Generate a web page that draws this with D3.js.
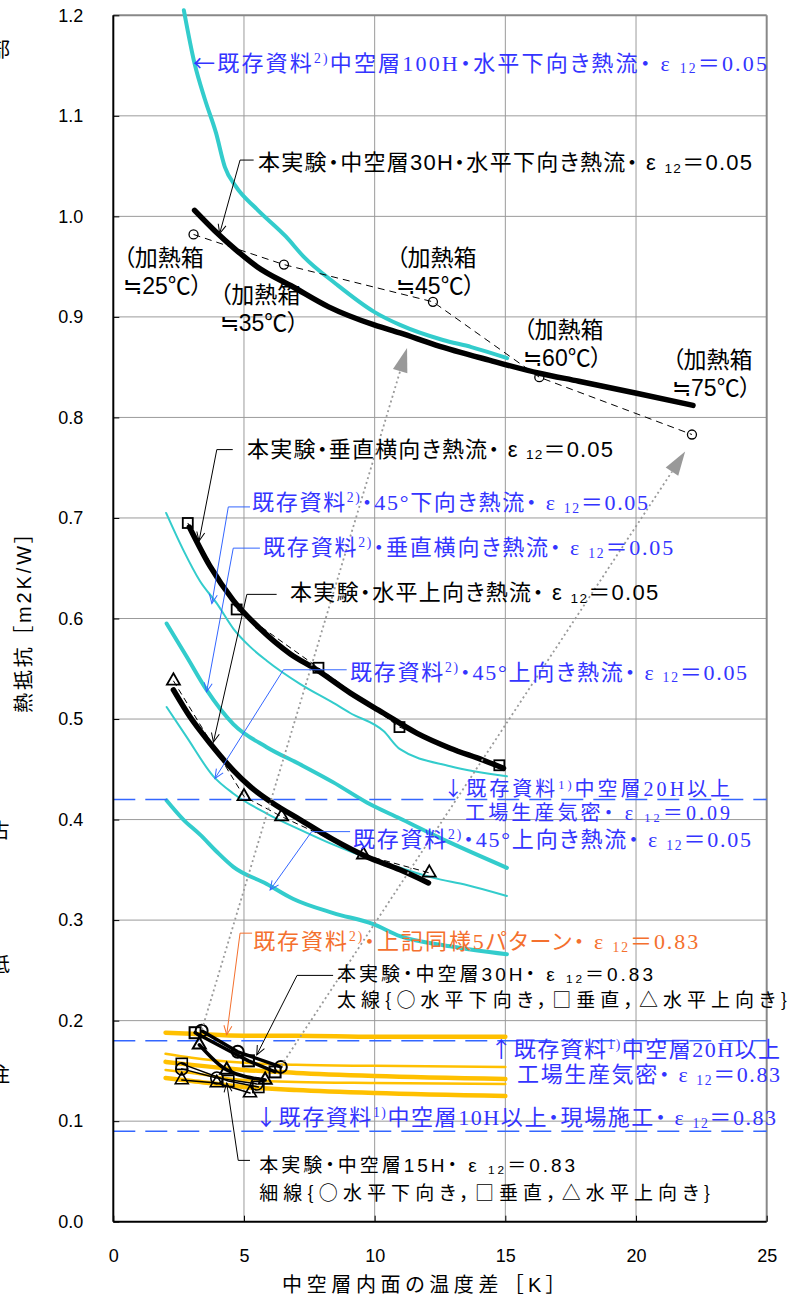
<!DOCTYPE html>
<html><head><meta charset="utf-8">
<script src="https://cdn.jsdelivr.net/npm/d3@7"></script>
<style>body{margin:0;background:#fff}svg{display:block}</style>
</head><body><svg id="c" width="800" height="1296"></svg>
<script>
// ---------------- DATA ----------------
const xTicks=[0,5,10,15,20,25];
const xTickLabels=["0","5","10","15","20","25"];
const yTicks=[0,0.1,0.2,0.3,0.4,0.5,0.6,0.7,0.8,0.9,1.0,1.1,1.2];
const yTickLabels=["0.0","0.1","0.2","0.3","0.4","0.5","0.6","0.7","0.8","0.9","1.0","1.1","1.2"];

// 既存資料2) 中空層100H 水平下向き ε0.05
const ref100Hx=[2.70,3.11,3.51,3.93,4.27,4.68,5.50,6.60,7.28,8.51,9.98,10.97,12.61,13.70,15.07];
const ref100Hy=[1.205,1.152,1.116,1.083,1.049,1.030,1.007,0.980,0.960,0.933,0.905,0.892,0.877,0.870,0.859];
// 本実験 中空層30H 水平下向き ε0.05
const exp30Hx=[3.11,3.87,4.68,5.50,6.87,8.24,9.98,10.97,12.34,14.38,16.30,17.81,20.02,22.18];
const exp30Hy=[1.006,0.986,0.967,0.950,0.930,0.910,0.892,0.884,0.872,0.857,0.844,0.836,0.824,0.812];
// 加熱箱 points
const boxX=[3.07,6.53,12.23,16.30,22.14];
const boxY=[0.982,0.952,0.915,0.840,0.783];
const boxTemps=["≒25℃）","≒35℃）","≒45℃）","≒60℃）","≒75℃）"];
const boxLabelX=[0.38,4.07,10.82,15.68,21.38];
const boxLabelY=[0.951,0.914,0.951,0.879,0.849];
// 本実験 垂直横向き ε0.05
const vertPtX=[2.85,4.72,7.85,10.95,14.77];
const vertPtY=[0.695,0.609,0.551,0.492,0.454];
const vertCurveX=[2.91,3.70,4.59,5.61,6.76,7.78,9.06,10.33,11.61,12.89,14.16,14.93];
const vertCurveY=[0.691,0.652,0.618,0.590,0.565,0.549,0.526,0.506,0.486,0.471,0.459,0.451];
// 本実験 水平上向き ε0.05
const upPtX=[2.30,5.00,6.44,9.57,12.09];
const upPtY=[0.538,0.423,0.403,0.365,0.347];
const upCurveX=[2.30,2.94,3.70,4.59,5.23,6.12,7.14,8.42,9.70,10.97,12.06];
const upCurveY=[0.529,0.502,0.476,0.449,0.433,0.416,0.400,0.380,0.363,0.350,0.337];
// 既存資料2) 45°下向き (thin)
const ref45downX=[2.02,2.68,3.32,3.96,4.59,5.23,5.87,7.14,8.42,9.06,10.34,10.97,12.89,15.06];
const ref45downY=[0.705,0.668,0.637,0.615,0.590,0.572,0.558,0.535,0.516,0.506,0.488,0.470,0.453,0.443];
// 既存資料2) 垂直横向き (thick)
const refVertX=[2.04,2.81,3.57,4.59,5.87,7.14,8.42,9.70,10.97,12.89,15.06];
const refVertY=[0.595,0.562,0.529,0.495,0.472,0.455,0.437,0.417,0.401,0.377,0.352];
// 既存資料2) 45°上向き (thin)
const ref45upX=[2.04,2.81,3.83,4.59,5.87,7.14,8.42,9.70,10.97,12.25,13.52,15.06];
const ref45upY=[0.512,0.482,0.443,0.426,0.406,0.390,0.375,0.362,0.352,0.342,0.335,0.324];
// 既存資料2) 上向き (thick, lowest)
const refUpX=[2.04,2.68,3.32,3.96,4.59,5.87,6.89,8.42,9.95,10.97,12.89,15.06];
const refUpY=[0.419,0.400,0.385,0.368,0.353,0.336,0.321,0.307,0.296,0.284,0.274,0.266];
// 既存資料1) reference levels
const refLevels=[0.42,0.18,0.09];
// 既存資料2) ε0.83 five patterns
const yellowX=[2,3,5,7,10,15];
const yellow1=[0.188,0.187,0.185,0.185,0.184,0.184];
const yellow2=[0.167,0.163,0.158,0.156,0.155,0.154];
const yellow3=[0.159,0.156,0.151,0.148,0.145,0.142];
const yellow4=[0.151,0.148,0.141,0.139,0.138,0.137];
const yellow5=[0.143,0.140,0.134,0.131,0.128,0.125];
// 本実験 ε0.83  30H (thick) / 15H (thin)
const e30circX=[3.38,4.76,6.41], e30circY=[0.190,0.169,0.154];
const e30sqX=[3.13,5.17,6.19],  e30sqY=[0.188,0.160,0.149];
const e30triX=[3.29,4.34,5.81], e30triY=[0.176,0.151,0.141];
const e15circX=[2.62,3.96,5.49], e15circY=[0.152,0.143,0.137];
const e15sqX=[2.62,4.40,5.55],  e15sqY=[0.157,0.140,0.134];
const e15triX=[2.62,3.96,5.23], e15triY=[0.141,0.138,0.128];
// gray dotted arrows
const arrowFrom=[[3.39,0.191],[6.42,0.155]];
const arrowTo=[[11.24,0.869],[21.88,0.766]];

// ---------------- SETUP ----------------
const svg=d3.select('#c');
const x=d3.scaleLinear().domain([0,25]).range([113.3,766.7]);
const y=d3.scaleLinear().domain([0,1.2]).range([1221.7,15.3]);
const zip=(a,b)=>a.map((v,i)=>[v,b[i]]);
const FG="'Liberation Sans','Noto Sans CJK JP',sans-serif";
const FJ="'Noto Sans CJK JP','Liberation Sans',sans-serif";
const FM="'Liberation Serif','Noto Sans CJK JP',serif";
const BLUE_T="#3434ff", BLUE_L="#3366ff", ORANGE="#f4702e", CYAN="#33cccc", GOLD="#ffc000";

const defs=svg.append('defs');
function vMarker(id,color){
  defs.append('marker').attr('id',id).attr('viewBox','-12 -7 14 14')
    .attr('refX',0).attr('refY',0).attr('markerWidth',14).attr('markerHeight',14)
    .attr('markerUnits','userSpaceOnUse').attr('orient','auto')
    .append('path').attr('d','M-9,-4 L0,0 L-9,4').attr('fill','none')
    .attr('stroke',color).attr('stroke-width',1);
}
vMarker('mk','#000'); vMarker('mb',BLUE_L); vMarker('mo',ORANGE);

// grid
const gGrid=svg.append('g');
gGrid.selectAll('line.gv').data(xTicks.slice(1,-1)).join('line').attr('class','gv')
  .attr('x1',d=>x(d)).attr('x2',d=>x(d)).attr('y1',y(1.2)).attr('y2',y(0))
  .attr('stroke','#9b9b9b').attr('stroke-width',1);
gGrid.selectAll('line.gh').data(yTicks.slice(1,-1)).join('line').attr('class','gh')
  .attr('x1',x(0)).attr('x2',x(25)).attr('y1',d=>y(d)).attr('y2',d=>y(d))
  .attr('stroke','#9b9b9b').attr('stroke-width',1);
// frame (top / right)
svg.append('line').attr('x1',x(0)).attr('x2',x(25)).attr('y1',y(1.2)).attr('y2',y(1.2)).attr('stroke','#888').attr('stroke-width',2);
svg.append('line').attr('x1',x(25)).attr('x2',x(25)).attr('y1',y(1.2)).attr('y2',y(0)).attr('stroke','#888').attr('stroke-width',2);

const lin=d3.line().x(d=>x(d[0])).y(d=>y(d[1]));
const smooth=d3.line().x(d=>x(d[0])).y(d=>y(d[1])).curve(d3.curveMonotoneX);
function path(pts,gen,color,w,dash){
  const p=svg.append('path').attr('d',gen(pts)).attr('fill','none').attr('stroke',color)
    .attr('stroke-width',w).attr('stroke-linejoin','round').attr('stroke-linecap','round');
  if(dash) p.attr('stroke-dasharray',dash).attr('stroke-linecap','butt');
  return p;
}

// yellow lines
[yellow1,yellow2,yellow3,yellow4,yellow5].forEach((ys,i)=>{
  path(zip(yellowX,ys),smooth,GOLD,[4.5,2.5,4.5,2.5,4.5][i]);
});
// cyan lines
path(zip(ref100Hx,ref100Hy),smooth,CYAN,4);
path(zip(ref45downX,ref45downY),smooth,CYAN,2);
path(zip(refVertX,refVertY),smooth,CYAN,4);
path(zip(ref45upX,ref45upY),smooth,CYAN,2);
path(zip(refUpX,refUpY),smooth,CYAN,4);
// reference dashed levels
svg.selectAll('line.lev').data(refLevels).join('line').attr('class','lev')
  .attr('x1',x(0)).attr('x2',x(25)).attr('y1',d=>y(d)).attr('y2',d=>y(d))
  .attr('stroke',BLUE_L).attr('stroke-width',1.6).attr('stroke-dasharray','22,10');

// black curves
path(zip(exp30Hx,exp30Hy),smooth,'#000',5.5);
path(zip(vertCurveX,vertCurveY),smooth,'#000',5.5);
path(zip(upCurveX,upCurveY),smooth,'#000',5.5);
// dashed connectors
path(zip(vertPtX,vertPtY),lin,'#000',1,'6,4');
path(zip(upPtX,upPtY),lin,'#000',1,'6,4');
path(zip(boxX,boxY),lin,'#000',1,'7,5');

// markers
function circles(xs,ys,r,w){
  svg.append('g').selectAll('circle').data(zip(xs,ys)).join('circle')
    .attr('cx',d=>x(d[0])).attr('cy',d=>y(d[1])).attr('r',r)
    .attr('fill','none').attr('stroke','#000').attr('stroke-width',w);
}
function squares(xs,ys,s,w){
  svg.append('g').selectAll('rect').data(zip(xs,ys)).join('rect')
    .attr('x',d=>x(d[0])-s/2).attr('y',d=>y(d[1])-s/2).attr('width',s).attr('height',s)
    .attr('fill','none').attr('stroke','#000').attr('stroke-width',w);
}
function tris(xs,ys,side,w){
  const sym=d3.symbol(d3.symbolTriangle,side*side*Math.sqrt(3)/4);
  svg.append('g').selectAll('path').data(zip(xs,ys)).join('path')
    .attr('d',sym).attr('transform',d=>`translate(${x(d[0])},${y(d[1])})`)
    .attr('fill','none').attr('stroke','#000').attr('stroke-width',w);
}
circles(boxX,boxY,4.5,1.3);
squares(vertPtX,vertPtY,10,1.8);
tris(upPtX,upPtY,13,1.8);

// ε0.83 experiments
path(zip(e30circX,e30circY),lin,'#000',3.5);
path(zip(e30sqX,e30sqY),lin,'#000',3.5);
path(zip(e30triX,e30triY),smooth,'#000',3.5);
path(zip(e15circX,e15circY),lin,'#000',1.5);
path(zip(e15sqX,e15sqY),lin,'#000',1.5);
path(zip(e15triX,e15triY),lin,'#000',1.5);
circles(e30circX,e30circY,6,2); squares(e30sqX,e30sqY,11,2); tris(e30triX,e30triY,13,2);
circles(e15circX,e15circY,6,1.6); squares(e15sqX,e15sqY,11,1.6); tris(e15triX,e15triY,13,1.6);

// gray dotted arrows
arrowFrom.forEach((p0,i)=>{
  const p1=arrowTo[i];
  const X0=x(p0[0]),Y0=y(p0[1]),X1=x(p1[0]),Y1=y(p1[1]);
  const dx=X1-X0,dy=Y1-Y0,L=Math.hypot(dx,dy),ux=dx/L,uy=dy/L;
  const hl=24,hw=7.5,bx=X1-ux*hl,by=Y1-uy*hl;
  svg.append('line').attr('x1',X0).attr('y1',Y0).attr('x2',bx).attr('y2',by)
    .attr('stroke','#999').attr('stroke-width',1.8).attr('stroke-dasharray','2,3');
  svg.append('path').attr('d',`M${X1},${Y1}L${bx-uy*hw},${by+ux*hw}L${bx+uy*hw},${by-ux*hw}Z`).attr('fill','#999');
});

// leader lines
const leaders=[
  {pts:[[5.37,1.056],[4.85,1.056],[4.07,0.983]],c:'#000',m:'mk'},
  {pts:[[4.57,0.768],[3.96,0.768],[3.28,0.677]],c:'#000',m:'mk'},
  {pts:[[5.23,0.711],[4.40,0.711],[3.77,0.615]],c:BLUE_L,m:'mb'},
  {pts:[[5.61,0.670],[4.59,0.670],[3.57,0.527]],c:BLUE_L,m:'mb'},
  {pts:[[6.25,0.624],[5.11,0.624],[3.83,0.477]],c:'#000',m:'mk'},
  {pts:[[8.93,0.549],[6.51,0.549],[3.89,0.441]],c:BLUE_L,m:'mb'},
  {pts:[[9.06,0.388],[7.59,0.388],[6.00,0.330]],c:BLUE_L,m:'mb'},
  {pts:[[5.31,0.287],[4.85,0.287],[4.34,0.186]],c:ORANGE,m:'mo'},
  {pts:[[8.41,0.245],[7.03,0.245],[5.49,0.166]],c:'#000',m:'mk'},
  {pts:[[5.23,0.061],[4.78,0.061],[4.34,0.138]],c:'#000',m:'mk'}
];
leaders.forEach(l=>{
  svg.append('path').attr('d',lin(l.pts)).attr('fill','none').attr('stroke',l.c)
    .attr('stroke-width',1).attr('marker-end',`url(#${l.m})`);
});

// labels: ^{..} superscript, _{..} subscript, ~{..} CJK-font glyph (arrows)
function label(str,x0,x1,yb,size,color,fam){
  const t=svg.append('text').attr('x',x(x0)).attr('y',y(yb)).attr('font-size',size)
    .attr('fill',color).attr('font-family',fam).style('font-feature-settings','"palt" 1');
  const re=/\^\{([^}]*)\}|_\{([^}]*)\}|~\{([^}]*)\}|([^^_~]+)/g;
  let cur=0,mm;
  while((mm=re.exec(str))){
    let tgt=0,txt=mm[4],fs=null,ff=null;
    if(mm[1]!==undefined){tgt=-size*0.36;txt=mm[1];fs=size*0.62;}
    else if(mm[2]!==undefined){tgt=size*0.12;txt=mm[2];fs=size*0.62;}
    else if(mm[3]!==undefined){txt=mm[3];ff=FJ;}
    const ts=t.append('tspan').text(txt);
    if(tgt!==cur) ts.attr('dy',tgt-cur);
    if(fs) ts.attr('font-size',fs);
    if(ff) ts.attr('font-family',ff);
    cur=tgt;
  }
  if(x1!=null) t.attr('textLength',x(x1)-x(x0)).attr('lengthAdjust','spacing');
  return t;
}
const E5=" ε _{12}＝0.05";
label("~{←}既存資料^{2)}中空層100H・水平下向き熱流・"+E5,3.05,25.01,1.145,22,BLUE_T,FM);
label("本実験・中空層30H・水平下向き熱流・"+E5,5.54,24.44,1.046,22,'#000',FG);
label("本実験・垂直横向き熱流・"+E5,5.12,19.12,0.761,22,'#000',FG);
label("既存資料^{2)}・45°下向き熱流・"+E5,5.31,20.46,0.708,22,BLUE_T,FM);
label("既存資料^{2)}・垂直横向き熱流・"+E5,5.73,21.42,0.663,22,BLUE_T,FM);
label("本実験・水平上向き熱流・"+E5,6.76,20.85,0.618,22,'#000',FG);
label("既存資料^{2)}・45°上向き熱流・"+E5,9.06,24.25,0.539,22,BLUE_T,FM);
label("~{↓}既存資料^{1)}中空層20H以上",12.62,23.60,0.4235,20,BLUE_T,FM);
label("工場生産気密・ ε _{12}＝0.09",13.46,23.60,0.3998,20,BLUE_T,FM);
label("既存資料^{2)}・45°上向き熱流・"+E5,9.17,24.40,0.3727,22,BLUE_T,FM);
label("既存資料^{2)}・上記同様5パターン・ ε _{12}＝0.83",5.35,22.38,0.271,22,ORANGE,FM);
label("本実験・中空層30H・ ε _{12}＝0.83",8.56,20.65,0.2395,19,'#000',FG);
label("太線{○水平下向き，□垂直，△水平上向き}",8.56,25.78,0.2136,19,'#000',FJ);
label("~{↑}既存資料^{1)}中空層20H以上",14.42,25.51,0.1638,22,BLUE_T,FM);
label("工場生産気密・ ε _{12}＝0.83",15.45,25.51,0.1389,22,BLUE_T,FM);
label("~{↓}既存資料^{1)}中空層10H以上・現場施工・ ε _{12}＝0.83",5.42,25.36,0.0962,22,BLUE_T,FM);
label("本実験・中空層15H・ ε _{12}＝0.83",5.58,17.67,0.0494,19,'#000',FG);
label("細線{○水平下向き，□垂直，△水平上向き}",5.58,22.84,0.0216,19,'#000',FJ);

// heating box labels
boxTemps.forEach((tmp,i)=>{
  label("（加熱箱",boxLabelX[i],null,boxLabelY[i],23,'#000',FG);
  label(tmp,boxLabelX[i],null,boxLabelY[i]-0.0279,23,'#000',FG);
});

// axes
const ax=svg.append('g').attr('transform',`translate(${x(0)},0)`)
  .call(d3.axisLeft(y).tickValues(yTicks).tickFormat((d,i)=>yTickLabels[i]).tickSizeInner(-6).tickSizeOuter(0).tickPadding(30));
const bx=svg.append('g').attr('transform',`translate(0,${y(0)})`)
  .call(d3.axisBottom(x).tickValues(xTicks).tickFormat((d,i)=>xTickLabels[i]).tickSizeInner(-6).tickSizeOuter(0).tickPadding(28));
[ax,bx].forEach(g=>{
  g.select('.domain').remove();
  g.selectAll('line').attr('stroke','#000');
  g.selectAll('text').attr('font-size',18).attr('font-family',FG).attr('fill','#000');
});
svg.append('line').attr('x1',x(0)).attr('x2',x(0)).attr('y1',y(1.2)).attr('y2',y(0)).attr('stroke','#000').attr('stroke-width',2);
svg.append('line').attr('x1',x(0)).attr('x2',x(25)).attr('y1',y(0)).attr('y2',y(0)).attr('stroke','#000').attr('stroke-width',2);

// axis titles
svg.append('text').attr('x',282).attr('y',1292).attr('font-size',20).attr('font-family',FG)
  .style('font-feature-settings','"palt" 1').attr('textLength',274).attr('lengthAdjust','spacing')
  .text('中空層内面の温度差 ［K］');
svg.append('text').attr('x',-713).attr('y',31).attr('transform','rotate(-90)')
  .attr('font-size',20).attr('font-family',FG).style('font-feature-settings','"palt" 1')
  .attr('textLength',180).attr('lengthAdjust','spacing')
  .text('熱抵抗 ［m2K/W］');

// cropped fragments of neighbouring text at the left edge (cut off in the reference too)
const edgeChars=["部","占","抵","注"];
const edgeY=[57,838,972,1082];
svg.selectAll('text.edge').data(edgeChars).join('text').attr('class','edge')
  .attr('x',-10).attr('y',(d,i)=>edgeY[i]).attr('font-size',20).attr('font-family',FJ).text(d=>d);
</script></body></html>
